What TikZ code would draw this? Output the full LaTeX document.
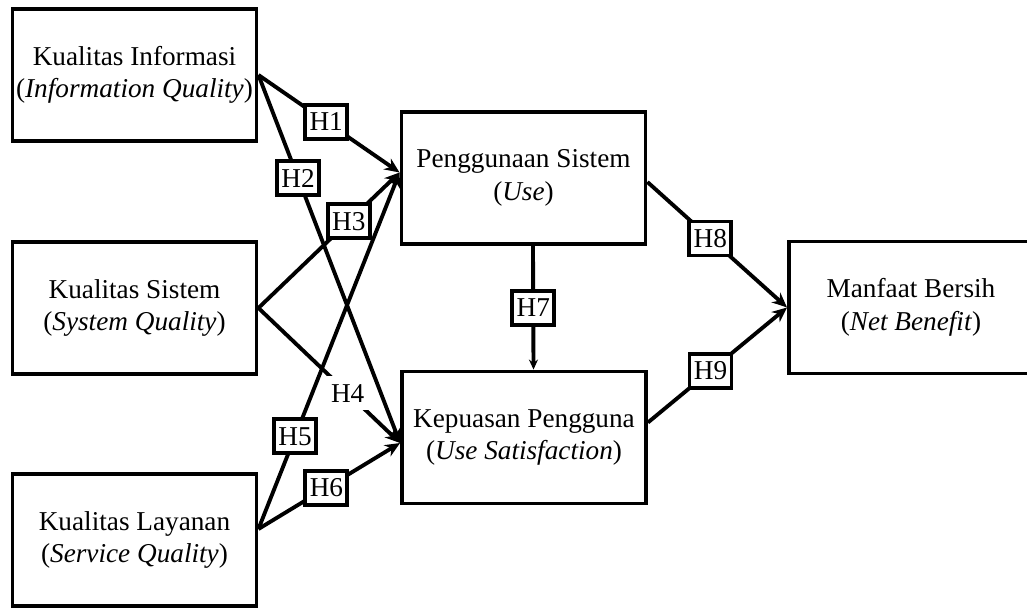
\documentclass[tikz,border=0pt]{standalone}
\usepackage{fontspec}
\setmainfont{Liberation Serif}
\usetikzlibrary{arrows.meta}

\begin{document}
\begin{tikzpicture}[
  font=\fontsize{15.5}{18.5}\selectfont,
  var/.style={draw, line width=2.2pt, align=center, minimum width=4.88cm, minimum height=2.64cm, inner sep=0pt},
  hyp/.style={draw, fill=white, line width=2.2pt, minimum width=0.84cm, minimum height=0.68cm, inner sep=1pt},
  hypfree/.style={hyp, draw=none},
  link/.style={line width=2.2pt, -{Stealth[length=3mm,width=2.6mm]}}
]
\useasboundingbox (0,0) rectangle (20.54,12.2);

% variables
\node[var] (KI) at (2.69,10.70) {Kualitas Informasi\\(\textit{Information Quality})};
\node[var] (KS) at (2.69,6.04) {Kualitas Sistem\\(\textit{System Quality})};
\node[var] (KL) at (2.69,1.40) {Kualitas Layanan\\(\textit{Service Quality})};
\node[var] (PS) at (10.47,8.64) {Penggunaan Sistem\\(\textit{Use})};
\node[var] (KP) at (10.48,3.45) {Kepuasan Pengguna\\(\textit{Use Satisfaction})};
\node[var] (MB) at (18.22,6.05) {Manfaat Bersih\\(\textit{Net Benefit})};

% hypotheses
\draw[link] (KI.east) -- node[hyp,pos=.48] (h1) {H1} ([yshift=1.1mm]PS.west);
\draw[link] (KI.east) -- node[hyp,pos=.28] (h2) {H2} ([yshift=-1.1mm]KP.west);
\draw[link] (KS.east) -- node[hyp,pos=.64] (h3) {H3} ([yshift=1.1mm]PS.west);
\draw[link] (KS.east) -- node[hypfree,pos=.63] (h4) {H4} ([yshift=-1.1mm]KP.west);
\draw[link] ([yshift=2.2mm]KL.east) -- node[hyp,pos=.26] (h5) {H5} ([yshift=1.1mm]PS.west);
\draw[link] ([yshift=2.2mm]KL.east) -- node[hyp,pos=.48] (h6) {H6} ([yshift=-1.1mm]KP.west);
\draw[line width=2.2pt, -{Stealth[length=2mm,width=1.8mm]}] ([xshift=1.9mm]PS.south) -- node[hyp] (h7) {H7} ([xshift=1.9mm]KP.north);
\draw[link] ([yshift=-0.8mm]PS.east) -- node[hyp,pos=.45] (h8) {H8} (MB.west);
\draw[link] ([yshift=3mm]KP.east) -- node[hyp,pos=.45] (h9) {H9} (MB.west);

\end{tikzpicture}
\end{document}
